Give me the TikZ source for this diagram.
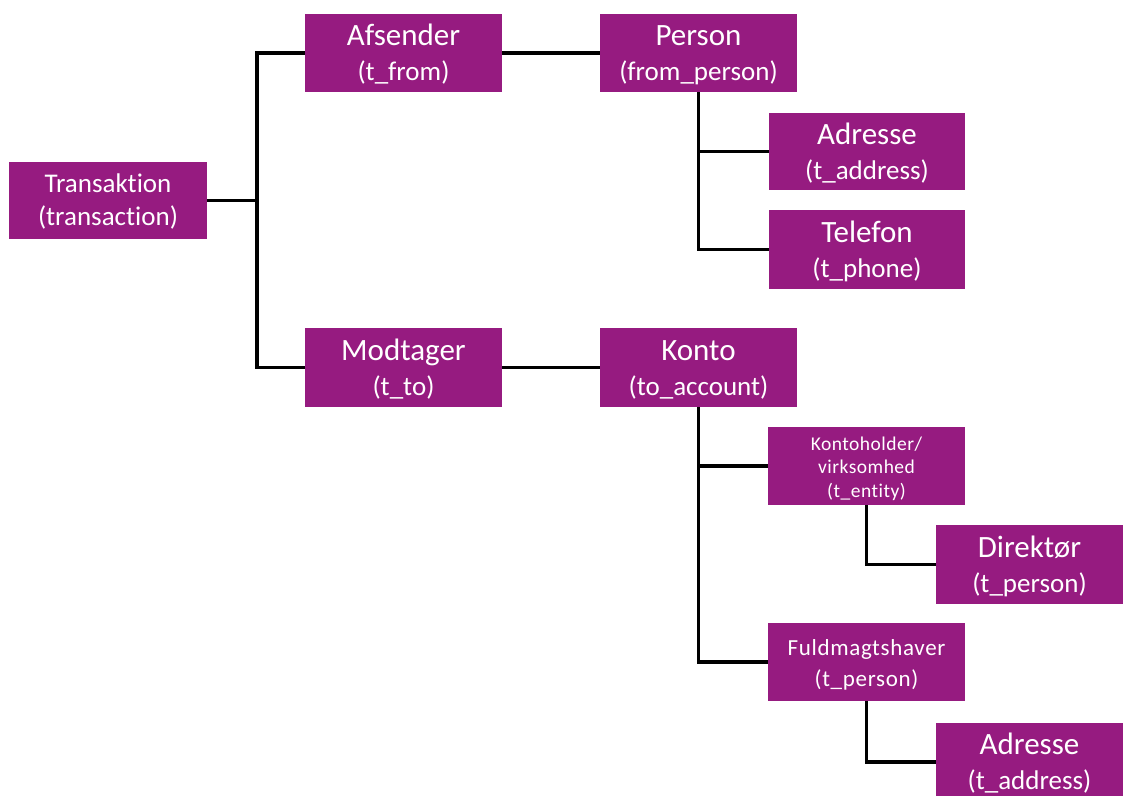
\documentclass[tikz,border=0pt]{standalone}
\usepackage{fontspec}
\setmainfont[Ligatures=NoCommon]{Carlito}
\definecolor{boxpurple}{RGB}{150,27,128}
\newcommand\boxtxt[3][-3pt]{\raisebox{#1}[\height][\depth]{\begin{tabular}{@{}c@{}}#2\\#3\end{tabular}}}
\newcommand\secbig[1]{{\fontsize{27}{35}\selectfont #1}}
\tikzset{
  ent/.style={fill=boxpurple, draw=none, text=white, align=center, inner sep=0pt,
    minimum width=#1, minimum height=78pt},
  ent/.default=197pt,
  big/.style={font=\fontsize{31}{35}\selectfont},
  mid/.style={font=\fontsize{27}{33}\selectfont},
  sml/.style={font=\fontsize{23}{31}\selectfont\addfontfeatures{LetterSpace=3}},
  tiny/.style={font=\fontsize{19.5}{23.5}\selectfont\addfontfeatures{LetterSpace=2.5}},
  link/.style={draw=black, line width=3.5pt}
}
\begin{document}
\begin{tikzpicture}[x=1pt, y=-1pt]
\clip (0,0) rectangle (1123,795);
\useasboundingbox (0,0) rectangle (1123,795);

\node[ent=198pt, mid, minimum height=77pt] (trans) at (108,200.5) {\boxtxt[-2pt]{Transaktion}{(transaction)}};
\node[ent=197pt, big] (afs) at (403.5,53) {\boxtxt{Afsender}{\secbig{(t\_from)}}};
\node[ent=197pt, big, minimum height=79pt] (mod) at (403.5,367.5) {\boxtxt{Modtager}{\secbig{(t\_to)}}};
\node[ent=197pt, big] (per) at (698.5,53) {\boxtxt{Person}{\secbig{(from\_person)}}};
\node[ent=197pt, big, minimum height=79pt] (kon) at (698.5,367.5) {\boxtxt{Konto}{\secbig{(to\_account)}}};
\node[ent=196pt, big, minimum height=77pt] (adr1) at (867,151.5) {\boxtxt{Adresse}{\secbig{(t\_address)}}};
\node[ent=196pt, big, minimum height=79pt] (tel) at (867,249.5) {\boxtxt{Telefon}{\secbig{(t\_phone)}}};
\node[ent=197pt, tiny] (kh) at (866.5,466) {\boxtxt{Kontoholder/\\virksomhed}{(t\_entity)}};
\node[ent=187pt, big, minimum height=79pt] (dir) at (1029.5,564.5) {\boxtxt{Direktør}{\secbig{(t\_person)}}};
\node[ent=197pt, sml] (ful) at (866.5,662) {\boxtxt{Fuldmagtshaver}{(t\_person)}};
\node[ent=187pt, big] (adr2) at (1029.5,762) {\boxtxt{Adresse}{\secbig{(t\_address)}}};

\coordinate (bus) at (257,0);
\draw[link] (afs.west) -- (afs.west -| bus) -- (mod.west -| bus) -- (mod.west);
\draw[link] (trans.east) -- (trans.east -| bus);
\draw[link] (afs.east) -- (per.west);
\draw[link] (mod.east) -- (kon.west);
\draw[link] (per.south) |- (tel.west);
\draw[link] (per.south |- adr1.west) -- (adr1.west);
\draw[link] (kon.south) |- (ful.west);
\draw[link] (kon.south |- kh.west) -- (kh.west);
\draw[link] (kh.south) |- (dir.west);
\draw[link] (ful.south) |- (adr2.west);
\end{tikzpicture}
\end{document}
